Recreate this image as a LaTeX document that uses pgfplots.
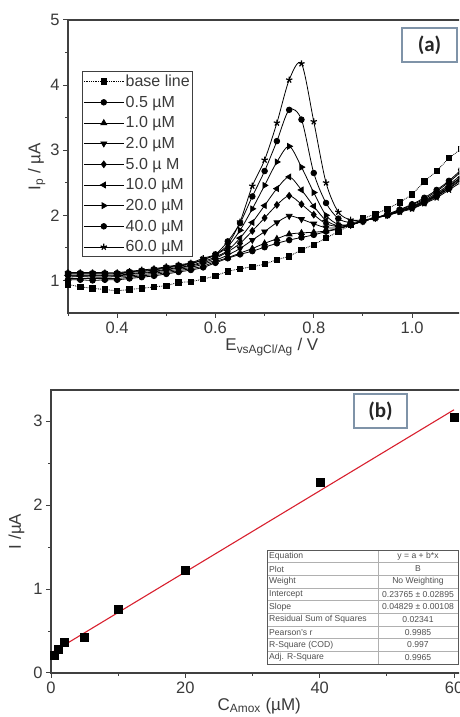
\documentclass[border=0pt]{standalone}
\usepackage{pgfplots}
\pgfplotsset{compat=1.18}
\usepackage{fontspec}
\setmainfont{Liberation Sans}
\newfontfamily\boxfont{Carlito}
\definecolor{axcol}{HTML}{404040}
\definecolor{txtcol}{HTML}{3A3A3A}
\definecolor{boxcol}{HTML}{7F93A8}
\definecolor{fitred}{HTML}{D8202E}
\definecolor{tabgrid}{HTML}{B0B0B0}
\definecolor{tabtxt}{HTML}{505050}

\pgfplotstableread{
x base c05 c1 c2 c5 c10 c20 c40 c60
0.300 0.94 1.01 1.03 1.05 1.07 1.08 1.10 1.11 1.12
0.325 0.90 1.01 1.03 1.06 1.07 1.08 1.10 1.11 1.12
0.350 0.88 1.00 1.03 1.05 1.07 1.08 1.10 1.11 1.12
0.375 0.86 1.01 1.03 1.05 1.07 1.08 1.10 1.11 1.12
0.400 0.84 1.01 1.03 1.06 1.07 1.08 1.10 1.11 1.12
0.425 0.86 1.03 1.05 1.07 1.09 1.10 1.12 1.13 1.14
0.450 0.88 1.05 1.07 1.09 1.11 1.12 1.14 1.15 1.16
0.475 0.90 1.07 1.09 1.11 1.13 1.14 1.16 1.17 1.18
0.500 0.92 1.10 1.12 1.14 1.16 1.17 1.19 1.20 1.21
0.525 0.97 1.13 1.15 1.17 1.19 1.20 1.22 1.23 1.24
0.550 0.98 1.16 1.18 1.20 1.22 1.23 1.25 1.26 1.27
0.575 1.02 1.20 1.22 1.25 1.27 1.29 1.32 1.32 1.34
0.600 1.07 1.27 1.29 1.31 1.34 1.36 1.39 1.40 1.40
0.625 1.14 1.34 1.35 1.39 1.44 1.46 1.52 1.60 1.55
0.650 1.18 1.40 1.42 1.49 1.57 1.65 1.77 1.88 1.90
0.675 1.21 1.45 1.49 1.62 1.76 1.89 2.10 2.29 2.45
0.700 1.25 1.51 1.57 1.75 1.96 2.15 2.46 2.68 2.85
0.725 1.32 1.57 1.64 1.89 2.16 2.41 2.82 3.14 3.42
0.750 1.37 1.62 1.71 1.99 2.30 2.59 3.06 3.62 4.08
0.775 1.47 1.66 1.73 1.94 2.17 2.39 2.74 3.47 4.33
0.800 1.55 1.70 1.74 1.87 2.01 2.14 2.35 2.65 3.44
0.825 1.65 1.75 1.76 1.81 1.87 1.92 2.00 2.19 2.50
0.850 1.75 1.79 1.80 1.81 1.83 1.84 1.86 1.95 2.05
0.875 1.85 1.85 1.85 1.85 1.86 1.86 1.86 1.89 1.93
0.900 1.95 1.91 1.91 1.91 1.91 1.91 1.91 1.92 1.93
0.925 2.02 1.96 1.96 1.96 1.96 1.96 1.96 1.96 1.96
0.950 2.10 2.02 2.01 2.01 2.01 2.01 2.00 2.00 2.00
0.975 2.20 2.09 2.08 2.07 2.07 2.07 2.06 2.06 2.05
1.000 2.32 2.17 2.16 2.14 2.13 2.13 2.12 2.11 2.10
1.025 2.52 2.27 2.25 2.23 2.22 2.21 2.20 2.19 2.18
1.050 2.68 2.39 2.37 2.34 2.32 2.31 2.30 2.29 2.27
1.075 2.88 2.53 2.51 2.47 2.45 2.44 2.42 2.41 2.39
1.100 3.02 2.70 2.67 2.62 2.59 2.58 2.56 2.54 2.51
}\cvdata

\pgfplotstableread{
c i
0.5 0.21
1 0.28
2 0.365
5 0.425
10 0.76
20 1.22
40 2.27
60 3.05
}\caldata

\pgfplotstableread{
c fit
0 0.23765
60 3.13505
}\fitdata

\pgfplotsset{
  mystyle/.style={
    scale only axis,
    axis line style={axcol, line width=1.2pt},
    tick style={axcol, line width=1pt},
    tick align=outside,
    xtick pos=left, ytick pos=left,
    major tick length=5pt, minor tick length=3pt,
    /pgf/number format/assume math mode=true,
    ticklabel style={font=\fontsize{16.5}{17}\selectfont, text=txtcol},
    label style={font=\fontsize{17}{18}\selectfont, text=txtcol},
    clip=true,
  }
}

\begin{document}
\begin{tikzpicture}[x=1pt,y=1pt]
\begin{scope}
\clip (0,0) rectangle (459,717);

% ---------- panel (a)
\begin{axis}[mystyle,
  at={(68pt,404pt)}, anchor=south west,
  width=417.8pt, height=293pt,
  xmin=0.3, xmax=1.15, ymin=0.5, ymax=5,
  xtick={0.4,0.6,0.8,1.0}, ytick={1,2,3,4,5},
  minor xtick={0.3,0.5,0.7,0.9,1.1}, minor ytick={1.5,2.5,3.5,4.5},
  xticklabel style={/pgf/number format/.cd, fixed, fixed zerofill, precision=1},
  xlabel={E\textsubscript{vsAgCl/Ag} / V},
  ylabel={I\textsubscript{p} / µA},
  xlabel style={xshift=-5pt, yshift=2pt},
  ylabel style={yshift=-2pt},
  legend style={at={(axis description cs:0.0335,0.826)}, anchor=north west,
    draw=axcol, line width=0.8pt, fill=white,
    font=\fontsize{16}{16}\selectfont, text=txtcol,
    inner xsep=1pt, inner ysep=2pt, row sep=5pt,
    nodes={inner sep=1.5pt}},
  legend cell align=left,
  legend image code/.code={%
    \draw (-20pt,0pt) -- (20pt,0pt);
    \draw plot[only marks] coordinates {(0pt,0pt)};},
  every axis plot/.append style={black, line width=0.8pt, mark size=2.8pt, mark options={solid, fill=black}},
]
\addplot[densely dotted, mark=square*, mark size=2.7pt] table[x=x,y=base] {\cvdata};
\addlegendentry{base line}
\addplot[smooth, mark=*] table[x=x,y=c05] {\cvdata};
\addlegendentry{0.5 µM}
\addplot[smooth, mark=triangle*, mark size=3.3pt] table[x=x,y=c1] {\cvdata};
\addlegendentry{1.0 µM}
\addplot[smooth, mark=triangle*, mark size=3.3pt, mark options={solid, fill=black, rotate=180}] table[x=x,y=c2] {\cvdata};
\addlegendentry{2.0 µM}
\addplot[smooth, mark=diamond*, mark size=3.3pt] table[x=x,y=c5] {\cvdata};
\addlegendentry{5.0 µ M}
\addplot[smooth, mark=triangle*, mark size=3.3pt, mark options={solid, fill=black, rotate=90}] table[x=x,y=c10] {\cvdata};
\addlegendentry{10.0 µM}
\addplot[smooth, mark=triangle*, mark size=3.3pt, mark options={solid, fill=black, rotate=-90}] table[x=x,y=c20] {\cvdata};
\addlegendentry{20.0 µM}
\addplot[smooth, mark=*] table[x=x,y=c40] {\cvdata};
\addlegendentry{40.0 µM}
\addplot[smooth, mark=star, mark size=3.3pt, mark options={solid, line width=1.2pt}] table[x=x,y=c60] {\cvdata};
\addlegendentry{60.0 µM}
\end{axis}

% ---------- panel (b)
\begin{axis}[mystyle,
  at={(51pt,44pt)}, anchor=south west,
  width=416.5pt, height=283pt,
  xmin=0, xmax=62, ymin=0, ymax=3.37,
  xtick={0,20,40,60}, ytick={0,1,2,3},
  minor xtick={10,30,50}, minor ytick={0.5,1.5,2.5},
  xlabel={C\textsubscript{Amox} (µM)},
  ylabel={I /µA},
  xlabel style={yshift=2pt},
  ylabel style={yshift=2pt},
]
\addplot[fitred, line width=1.1pt] table[x=c,y=fit] {\fitdata};
\addplot[only marks, mark=square*, mark size=4pt, black] table[x=c,y=i] {\caldata};
\end{axis}

% ---------- panel labels
\node[draw=boxcol, line width=1.1pt, fill=white, minimum width=55pt, minimum height=34pt,
  inner sep=0pt, font=\boxfont\bfseries\fontsize{21}{21}\selectfont, text=black!85] at (429.5,672) {(a)};
\node[draw=boxcol, line width=1.1pt, fill=white, minimum width=53pt, minimum height=34pt,
  inner sep=0pt, font=\boxfont\bfseries\fontsize{21}{21}\selectfont, text=black!85] at (380.5,306) {(b)};

% ---------- fit statistics table
\fill[white] (267,53) rectangle (458,167);
\foreach \k in {1,...,8} {\draw[tabgrid, line width=0.5pt] (267,{53+\k*12.667}) -- (458,{53+\k*12.667});}
\draw[tabgrid, line width=0.6pt] (378,53) -- (378,167);
\draw[black!65, line width=0.8pt] (267,53) rectangle (458,167);
\begin{scope}[every node/.style={font=\fontsize{8.6}{9}\selectfont, text=tabtxt, inner sep=0pt}]
\foreach \n/\a/\b in {
  1/Equation/{y = a + b*x},
  2/Plot/B,
  3/Weight/No Weighting,
  4/Intercept/{0.23765 ± 0.02895},
  5/Slope/{0.04829 ± 0.00108},
  6/Residual Sum of Squares/0.02341,
  7/Pearson's r/0.9985,
  8/R-Square (COD)/0.997,
  9/Adj. R-Square/0.9965} {
  \node[anchor=west] at (269,{167-(\n-0.5)*12.667}) {\a};
  \node at (418,{167-(\n-0.5)*12.667}) {\b};
}
\end{scope}
\end{scope}
\pgfresetboundingbox
\useasboundingbox (0,0) rectangle (459,717);
\end{tikzpicture}
\end{document}
